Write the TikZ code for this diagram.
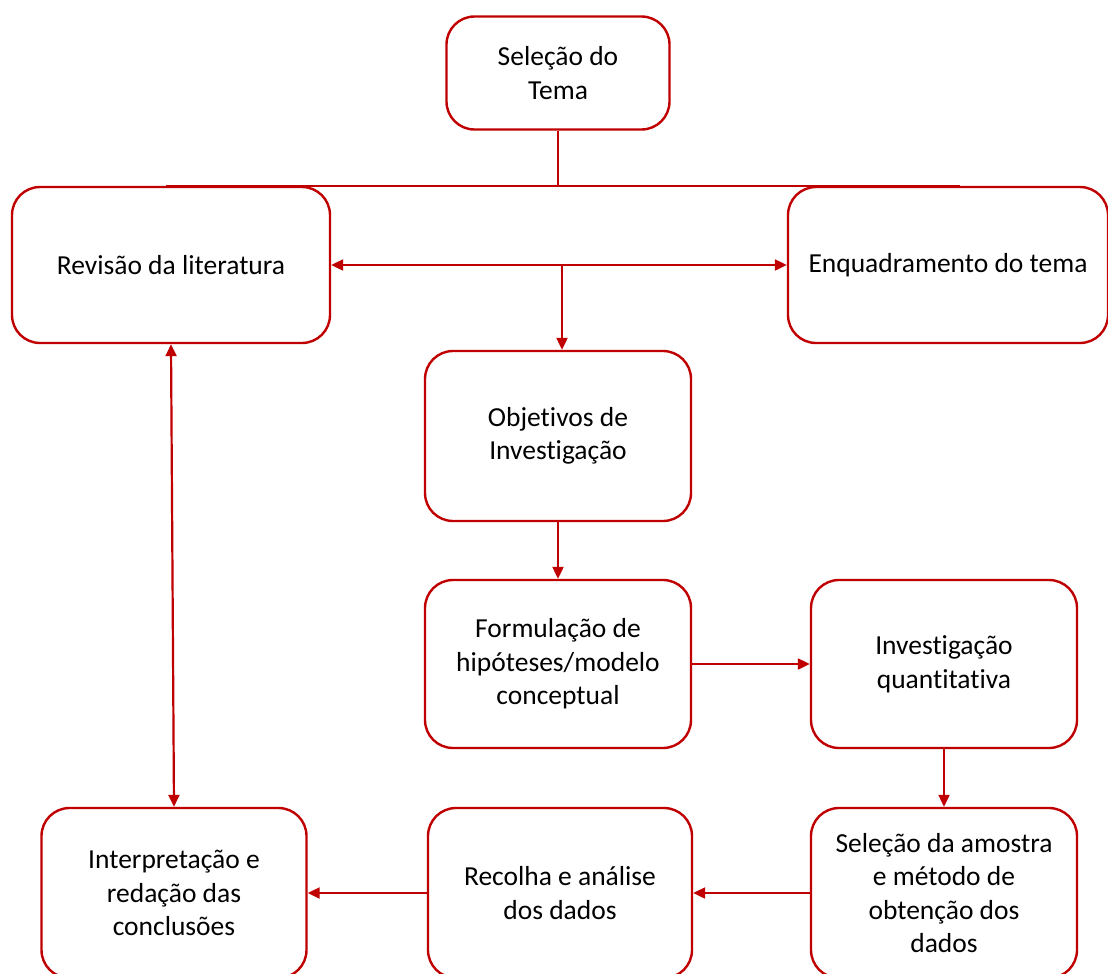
\documentclass[tikz,border=0pt]{standalone}
\usepackage{fontspec}
\setmainfont[Ligatures=NoCommon]{Carlito}
\usetikzlibrary{arrows.meta}
\definecolor{boxred}{RGB}{192,0,0}
\begin{document}
\begin{tikzpicture}
            [
                x = 1pt, y = -1pt,
                every node/.style={
                    font = \fontsize{27.5}{33.5}\selectfont,
                    align = center
                },
                stage/.style={
                    draw = boxred,
                    line width = 2.4pt,
                    rounded corners = 28pt,
                    inner sep = 0pt,
                    fill = white
                },
                link/.style={
                    draw = boxred,
                    line width = 2.2pt,
                    -{Triangle[length = 12pt, width = 11pt]}
                },
                twoway/.style={
                    link,
                    {Triangle[length = 12pt, width = 11pt]}-{Triangle[length = 12pt, width = 11pt]}
                },
            ]
                \clip (0,0) rectangle (1108,974);
                \useasboundingbox (0,0) rectangle (1108,974);

                % etapas
                \node [stage, minimum width = 223pt, minimum height = 113pt] (tema) at (558,73) {Seleção do\\Tema};
                \node [stage, minimum width = 318pt, minimum height = 156pt] (revisao) at (171,265) {Revisão da literatura};
                \node [stage, minimum width = 320pt, minimum height = 156pt] (enquadramento) at (948,265) {Enquadramento do tema};
                \node [stage, minimum width = 266pt, minimum height = 170pt] (objetivos) at (558,436) {Objetivos de\\Investigação};
                \node [stage, minimum width = 266pt, minimum height = 168pt] (formulacao) at (558,664) {Formulação de\\hipóteses/modelo\\conceptual};
                \node [stage, minimum width = 266pt, minimum height = 168pt] (quantitativa) at (944,664) {Investigação\\quantitativa};
                \node [stage, minimum width = 266pt, minimum height = 170pt] (amostra) at (944,893) {Seleção da amostra\\e método de\\obtenção dos\\dados};
                \node [stage, minimum width = 264pt, minimum height = 170pt] (recolha) at (560,893) {Recolha e análise\\dos dados};
                \node [stage, minimum width = 265pt, minimum height = 170pt] (conclusoes) at (174,893) {Interpretação e\\redação das\\conclusões};

                % ligacoes
                \coordinate (barL) at (166,186);
                \coordinate (barR) at (960,186);
                \coordinate (split) at (562,265);
                \draw [draw = boxred, line width = 2.4pt] (barL) -- (barR);
                \draw [draw = boxred, line width = 1.6pt] (tema.south) -- (tema.south |- barL);
                \draw [twoway] (revisao.east) -- (enquadramento.west);
                \draw [link] (split) -- (split |- objetivos.north);
                \draw [link] (objetivos) -- (formulacao);
                \draw [link] (formulacao) -- (quantitativa);
                \draw [link] (quantitativa) -- (amostra);
                \draw [link] (amostra) -- (recolha);
                \draw [link] (recolha) -- (conclusoes);
                \draw [twoway] (revisao.south) -- (conclusoes.north);
            \end{tikzpicture}
\end{document}
